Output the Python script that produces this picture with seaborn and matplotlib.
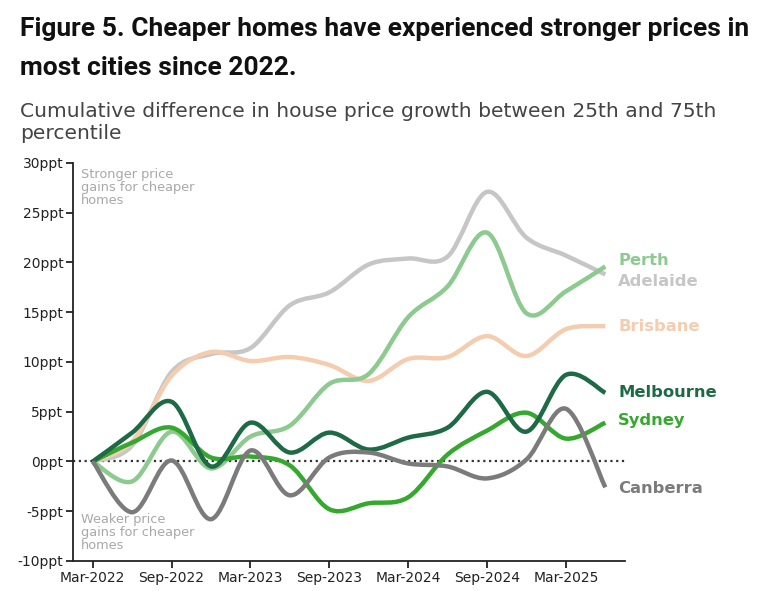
import numpy as np
import pandas as pd
import matplotlib
matplotlib.use("Agg")
import matplotlib.pyplot as plt
from matplotlib.path import Path
from matplotlib.patches import PathPatch
import seaborn as sns

# quarterly data, Mar-2022 .. Jun-2025
quarters = ["Mar-2022", "Jun-2022", "Sep-2022", "Dec-2022", "Mar-2023", "Jun-2023",
            "Sep-2023", "Dec-2023", "Mar-2024", "Jun-2024", "Sep-2024", "Dec-2024",
            "Mar-2025", "Jun-2025"]
adelaide = [0, 1.6, 9.0, 10.8, 11.4, 15.7, 17.0, 19.8, 20.4, 20.6, 27.1, 22.5, 20.7, 18.8]
brisbane = [0, 2.0, 8.6, 11.0, 10.1, 10.5, 9.7, 8.1, 10.3, 10.5, 12.6, 10.6, 13.3, 13.6]
perth = [0, -2.0, 3.0, -0.7, 2.5, 3.6, 7.8, 8.8, 14.5, 17.6, 23.0, 14.9, 17.1, 19.6]
sydney = [0, 1.9, 3.4, 0.4, 0.5, -0.4, -4.8, -4.2, -3.6, 0.7, 3.1, 4.9, 2.3, 3.9]
melbourne = [0, 2.9, 6.0, -0.5, 3.9, 0.9, 2.9, 1.2, 2.4, 3.4, 7.0, 3.0, 8.7, 6.9]
canberra = [0, -5.1, 0.1, -5.8, 1.1, -3.4, 0.4, 0.9, -0.2, -0.5, -1.7, 0.2, 5.3, -2.6]

cities = ["Adelaide", "Brisbane", "Perth", "Sydney", "Melbourne", "Canberra"]
series = [adelaide, brisbane, perth, sydney, melbourne, canberra]
colors = {"Adelaide": "#c6c6c6", "Brisbane": "#f4cdb0", "Perth": "#8dca8f",
          "Sydney": "#36a82f", "Melbourne": "#1f6a46", "Canberra": "#7b7b7b"}
# end label offsets (data units) so labels don't collide
label_y = {"Perth": 20.2, "Adelaide": 18.1, "Brisbane": 13.6,
           "Melbourne": 6.9, "Sydney": 4.1, "Canberra": -2.7}

rows = []
for city, vals in zip(cities, series):
    for i, v in enumerate(vals):
        rows.append({"q": i, "city": city, "value": v})
df = pd.DataFrame(rows)

sns.set_theme(style="ticks")
plt.rcParams["font.family"] = ["DejaVu Sans"]

fig = plt.figure(figsize=(7.67, 5.91), dpi=100)
ax = fig.add_axes([0.0952, 0.0508, 0.7197, 0.6734])

sns.lineplot(data=df, x="q", y="value", hue="city", hue_order=cities,
             palette=colors, linewidth=3.2, legend=False, ax=ax)


def smooth_path(x, y):
    # catmull-rom -> cubic bezier, drawn in data coordinates
    pts = np.column_stack([x, y])
    ext = np.vstack([pts[0], pts, pts[-1]])
    verts = [pts[0]]
    codes = [Path.MOVETO]
    for i in range(1, len(ext) - 2):
        p0, p1, p2, p3 = ext[i - 1], ext[i], ext[i + 1], ext[i + 2]
        verts += [p1 + (p2 - p0) / 6, p2 - (p3 - p1) / 6, p2]
        codes += [Path.CURVE4] * 3
    return Path(verts, codes)


for line in list(ax.lines):
    xd, yd = line.get_xdata(), line.get_ydata()
    patch = PathPatch(smooth_path(xd, yd), fill=False, edgecolor=line.get_color(),
                      linewidth=line.get_linewidth(), capstyle="butt", zorder=line.get_zorder())
    ax.add_patch(patch)
    line.set_visible(False)

ax.axhline(0, color="#333333", linestyle=(0, (1, 1.6)), linewidth=1.6, zorder=1)

ax.set_xlim(-0.5, 13.5)
ax.set_ylim(-10, 30)
ax.set_xticks(range(0, 14, 2))
ax.set_xticklabels(quarters[::2])
ax.set_yticks(range(-10, 31, 5))
ax.set_yticklabels([f"{v}ppt" for v in range(-10, 31, 5)])
ax.tick_params(axis="both", labelsize=10, colors="#222222", length=5, width=1.3, pad=2)
ax.set_xlabel("")
ax.set_ylabel("")
sns.despine(ax=ax)
for s in ["left", "bottom"]:
    ax.spines[s].set_linewidth(1.3)
    ax.spines[s].set_color("#222222")

for city in cities:
    ax.text(13.33, label_y[city], city, color=colors[city], fontsize=11.8,
            fontweight="bold", va="center", ha="left", clip_on=False)

ax.text(-0.3, 29.5, "Stronger price\ngains for cheaper\nhomes", color="#a8a8a8",
        fontsize=9.3, va="top", ha="left", linespacing=1.0)
ax.text(-0.3, -5.2, "Weaker price\ngains for cheaper\nhomes", color="#a8a8a8",
        fontsize=9.3, va="top", ha="left", linespacing=1.0)

fig.text(0.026, 0.972, "Figure 5. Cheaper homes have experienced stronger prices in\nmost cities since 2022.",
         fontsize=19, fontweight="bold", family=["Roboto", "DejaVu Sans"],
         va="top", ha="left", linespacing=1.8, color="#111111")
fig.text(0.026, 0.828, "Cumulative difference in house price growth between 25th and 75th\npercentile",
         fontsize=14.6, va="top", ha="left", linespacing=1.2, color="#444444")

fig.savefig("out.png", dpi=100)
